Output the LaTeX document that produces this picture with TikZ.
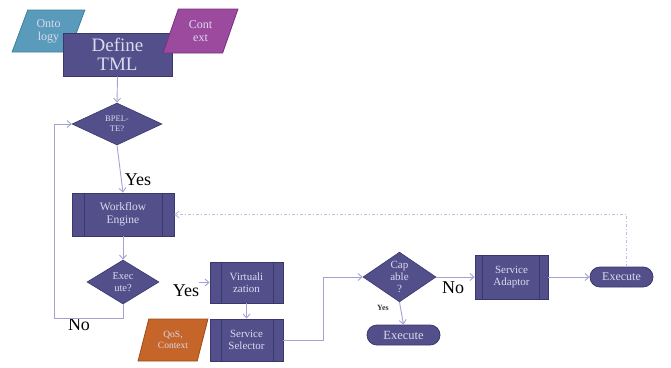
\documentclass[tikz,border=0pt]{standalone}
\usepackage{fontspec}
\setmainfont{Liberation Serif}
\usetikzlibrary{shapes.geometric,shapes.misc,arrows.meta}
\definecolor{boxfill}{HTML}{534F8B}
\definecolor{boxdraw}{HTML}{3A376E}
\definecolor{boxtext}{HTML}{DADAEE}
\definecolor{conn}{HTML}{A3A2D0}
\definecolor{dashc}{HTML}{BDBDDF}
\definecolor{ontofill}{HTML}{5A9BBB}
\definecolor{ontodraw}{HTML}{3F7F9F}
\definecolor{ctxfill}{HTML}{9C4A9E}
\definecolor{ctxdraw}{HTML}{7A2F80}
\definecolor{qosfill}{HTML}{C5652A}
\definecolor{qosdraw}{HTML}{A04C18}
\begin{document}
\begin{tikzpicture}[x=1pt,y=-1pt,
  every node/.style={inner sep=0pt,align=center},
  procbox/.style={rectangle,fill=boxfill,draw=boxdraw,line width=0.8pt,text=boxtext,font=\fontsize{11}{12.5}\selectfont},
  decide/.style={diamond,fill=boxfill,draw=boxdraw,line width=0.6pt,text=boxtext,font=\fontsize{10.5}{12}\selectfont},
  terminal/.style={rounded rectangle,fill=boxfill,draw=boxdraw,line width=0.8pt,text=boxtext,font=\fontsize{12}{13}\selectfont},
  iobox/.style={trapezium,trapezium left angle=69,trapezium right angle=111,trapezium stretches=true,line width=0.8pt,text=boxtext,font=\fontsize{12}{13}\selectfont},
  flow/.style={draw=conn,line width=0.9pt,-{Straight Barb[length=4pt,width=7pt]}},
  backflow/.style={draw=dashc,line width=1pt,dash pattern=on 3pt off 2pt on 1pt off 2pt,-{Straight Barb[length=4pt,width=7pt]}},
  biglabel/.style={font=\fontsize{18}{18}\selectfont,text=black},
  smalllabel/.style={font=\bfseries\fontsize{8}{8}\selectfont,text=black!80}
]
\useasboundingbox (0,0) rectangle (671,367);
% nodes
\node[iobox,fill=ontofill,draw=ontodraw,minimum width=73,minimum height=42] (onto) at (48.5,31) {Onto\\logy};
\node[procbox,minimum width=109,minimum height=43,font=\fontsize{19}{18.5}\selectfont] (def) at (117.5,54.5) {Define\\TML};
\node[iobox,fill=ctxfill,draw=ctxdraw,minimum width=75,minimum height=44] (ctx) at (200.5,31) {Cont\\ext};
\node[decide,minimum width=90,minimum height=42,font=\fontsize{8.5}{9.5}\selectfont] (bpel) at (117,124) {BPEL-\\TE?};
\node[procbox,minimum width=102,minimum height=43,font=\fontsize{11.5}{13}\selectfont] (wf) at (123,214.5) {Workflow\\Engine};
\node[decide,minimum width=72,minimum height=44] (exec) at (123,282) {Exec\\ute?};
\node[procbox,minimum width=73,minimum height=41] (virt) at (246.5,282.5) {Virtuali\\zation};
\node[iobox,fill=qosfill,draw=qosdraw,minimum width=70,minimum height=42,font=\fontsize{9.5}{11}\selectfont] (qos) at (173,340) {QoS,\\Context};
\node[procbox,minimum width=73,minimum height=42] (sel) at (246.5,340) {Service\\Selector};
\node[decide,minimum width=73,minimum height=44,font=\fontsize{11}{12}\selectfont] (cap) at (399.5,277) {Cap\\able\\?};
\node[procbox,minimum width=73,minimum height=44] (adapt) at (511.5,277) {Service\\Adaptor};
\node[terminal,minimum width=63,minimum height=20] (exr) at (621.5,277) {Execute};
\node[terminal,minimum width=73,minimum height=20,font=\fontsize{12.5}{13}\selectfont] (exb) at (403.5,335) {Execute};
% predefined-process side lines
\foreach \n/\l/\r in {wf/13/12,virt/12/10,sel/12/10,adapt/8/9}{
  \draw[boxdraw,line width=0.8pt] ([xshift=\l]\n.north west) -- ([xshift=\l]\n.south west);
  \draw[boxdraw,line width=0.8pt] ([xshift=-\r]\n.north east) -- ([xshift=-\r]\n.south east);
}
% labels
\node[biglabel] (yes1) at (138,180) {Yes};
\node[biglabel] (yes2) at (186,291) {Yes};
\node[biglabel] (no1) at (79,325) {No};
\node[biglabel] (no2) at (453,288) {No};
\node[smalllabel] (yes3) at (383,308) {Yes};
% coordinates
\coordinate (loopc) at (54,318);
\coordinate (turn) at (323,277);
% connectors
\draw[flow] (def.south) -- (bpel.north);
\draw[flow] (bpel.south) -- (wf.north);
\draw[flow] (wf.south) -- (exec.north);
\draw[flow] (exec.south) |- (loopc) |- (bpel.west);
\draw[flow] (yes2.east |- virt.west) -- (virt.west);
\draw[flow] (virt.south) -- (sel.north);
\draw[flow] (sel.east) -| (turn) -- (cap.west);
\draw[flow] (cap.east) -- (adapt.west);
\draw[flow] (cap.south) -- (exb.north);
\draw[flow] (adapt.east) -- (exr.west);
\draw[backflow] ([xshift=5]exr.north) |- (wf.east);
\end{tikzpicture}
\end{document}
